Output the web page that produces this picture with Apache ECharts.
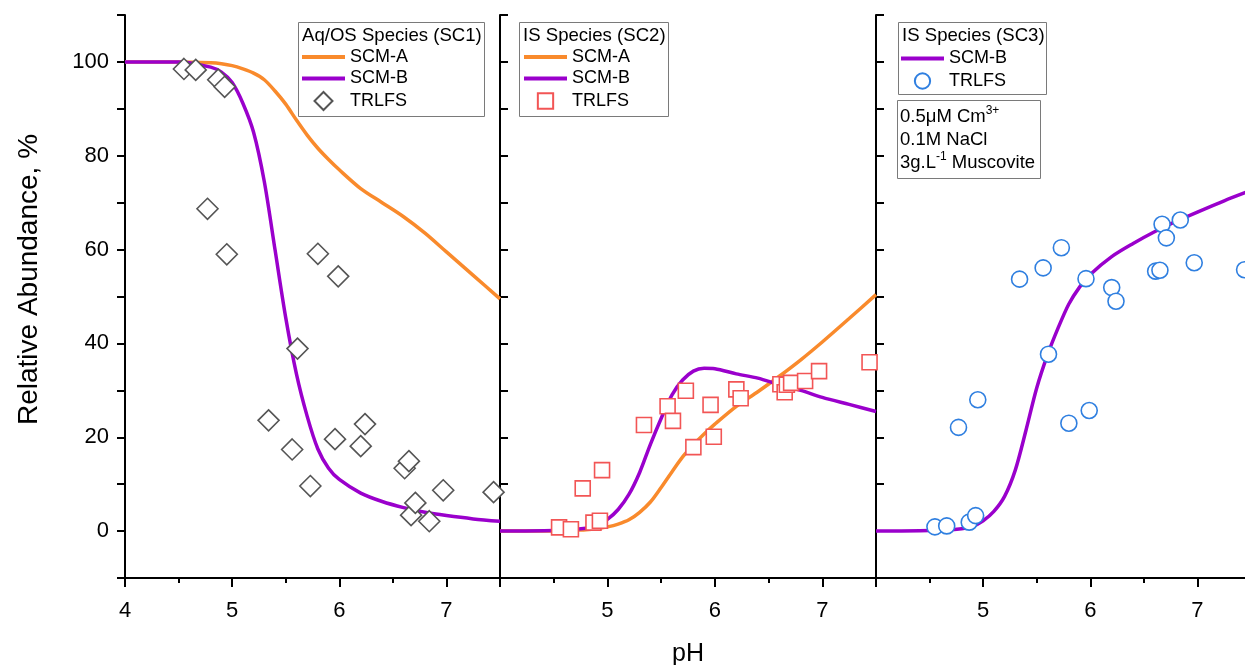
<!DOCTYPE html>
<html>
<head>
<meta charset="utf-8">
<script src="https://cdn.jsdelivr.net/npm/echarts@6/dist/echarts.min.js"></script>
<style>
  html, body { margin: 0; padding: 0; background: #fff; }
  #chart { width: 1245px; height: 665px; }
</style>
</head>
<body>
<div id="chart"></div>
<script>
// TRLFS measurements (same pH points in all three panels)
const trlfsPh  = [4.55, 4.66, 4.77, 4.87, 4.93, 4.95, 5.34, 5.56, 5.61, 5.73, 5.80, 5.96, 5.99, 6.20, 6.24, 6.61, 6.65, 6.67, 6.71, 6.84, 6.97, 7.44];
const trlfsSC1 = [98.5, 98.3, 68.7, 96.2, 94.7, 59.0, 23.6, 17.4, 38.9, 9.6, 59.1, 19.6, 54.3, 18.1, 22.8, 13.4, 14.9, 3.4, 6.0, 2.1, 8.7, 8.3];
const trlfsSC2 = [0.8, 0.4, 9.1, 1.8, 2.2, 13.0, 22.6, 26.6, 23.5, 29.9, 17.9, 26.9, 20.1, 30.2, 28.3, 31.3, 29.6, 31.2, 31.6, 32.0, 34.1, 36.0];
const trlfsSC3 = [0.9, 1.1, 22.1, 1.9, 3.3, 28.0, 53.7, 56.1, 37.7, 60.4, 23.0, 53.8, 25.7, 51.9, 49.0, 55.4, 55.6, 65.4, 62.5, 66.3, 57.2, 55.7];

// model curves
const modelPh  = [4.0, 4.5, 4.8, 4.9, 5.0, 5.1, 5.2, 5.3, 5.4, 5.5, 5.6, 5.7, 5.8, 5.9, 6.0, 6.2, 6.4, 6.6, 6.8, 7.0, 7.25, 7.5];
const scmA_SC1 = [100, 100, 99.8, 99.6, 99.2, 98.5, 97.6, 96.2, 93.8, 91.0, 87.6, 84.4, 81.6, 79.2, 77.0, 73.0, 70.0, 67.0, 63.5, 59.5, 54.5, 49.5];
const scmB_SC1 = [100, 100, 98.9, 97.8, 95.6, 91.2, 85.0, 74.5, 60.0, 45.5, 33.5, 24.5, 17.5, 13.4, 11.0, 8.1, 6.3, 5.0, 4.0, 3.3, 2.6, 2.1];
const scmA_SC2 = [0, 0, 0.3, 0.5, 0.9, 1.5, 2.4, 4.0, 6.2, 9.3, 12.6, 15.8, 18.4, 20.7, 22.8, 26.6, 29.7, 33.0, 36.5, 40.3, 45.3, 50.4];
const scmB_SC2 = [0, 0.1, 0.6, 1.3, 2.5, 4.6, 7.8, 12.5, 18.5, 24.0, 29.0, 32.2, 34.1, 34.7, 34.6, 33.5, 32.6, 31.2, 30.0, 28.5, 27.0, 25.5];
const scmB_SC3 = [0, 0.1, 0.5, 1.0, 2.2, 4.2, 7.4, 13.0, 21.5, 30.5, 37.5, 43.3, 48.4, 52.0, 54.7, 58.5, 61.3, 63.8, 66.0, 68.0, 70.4, 72.6];

const yLabels = [0, 20, 40, 60, 80, 100];
const xLabels1 = [4, 5, 6, 7];
const xLabels = [5, 6, 7];

const FONT = 'Liberation Sans, Arial, sans-serif';
const ORANGE = '#F98A2C';
const PURPLE = '#9A00CC';

function zip(xs, ys) {
  return xs.map((x, i) => [x, ys[i]]);
}

const chart = echarts.init(document.getElementById('chart'));

const grids = [
  {left: 125, top: 15, width: 375, height: 563, outerBoundsMode: 'none'},
  {left: 500, top: 15, width: 376, height: 563, outerBoundsMode: 'none'},
  {left: 876, top: 15, width: 375, height: 563, outerBoundsMode: 'none'}
];

const xAxes = [];
grids.forEach((g, i) => {
  const labels = i === 0 ? xLabels1 : xLabels;
  // major ticks + labels
  xAxes.push({
    type: 'value', gridIndex: i, min: 4, max: 7.5, interval: 1, position: 'bottom',
    axisLine: {onZero: false, lineStyle: {color: '#000', width: 2}},
    axisTick: {length: 9, lineStyle: {color: '#000', width: 2}},
    axisLabel: {
      margin: 22, fontSize: 22, color: '#000', fontFamily: FONT,
      formatter: (v) => labels.indexOf(v) >= 0 ? String(v) : ''
    },
    splitLine: {show: false},
    name: i === 1 ? 'pH' : '',
    nameLocation: 'middle', nameGap: 64,
    nameTextStyle: {fontSize: 25, color: '#000', fontFamily: FONT}
  });
  // minor ticks
  xAxes.push({
    type: 'value', gridIndex: i, min: 4, max: 7.5, interval: 0.5, position: 'bottom',
    axisLine: {show: false, onZero: false},
    axisTick: {length: 5, lineStyle: {color: '#000', width: 2}},
    axisLabel: {show: false},
    splitLine: {show: false}
  });
});

const yAxes = grids.map((g, i) => ({
  type: 'value', gridIndex: i, min: -10, max: 110, interval: 10,
  axisLine: {show: true, onZero: false, lineStyle: {color: '#000', width: 2}},
  axisTick: {show: true, inside: i > 0, length: 8, lineStyle: {color: '#000', width: 2}},
  axisLabel: {
    show: i === 0, margin: 16, fontSize: 22, color: '#000', fontFamily: FONT,
    formatter: (v) => yLabels.indexOf(v) >= 0 ? String(v) : ''
  },
  splitLine: {show: false},
  name: i === 0 ? 'Relative Abundance, %' : '',
  nameLocation: 'middle', nameGap: 82,
  nameTextStyle: {fontSize: 28, color: '#000', fontFamily: FONT, padding: [0, 0, 0, 34]}
}));

function lineSeries(name, color, data, xi, yi) {
  return {
    name: name, type: 'line', xAxisIndex: xi, yAxisIndex: yi,
    data: data, symbol: 'none', smooth: 0.3,
    lineStyle: {color: color, width: 3.5}, itemStyle: {color: color},
    z: 2, silent: true
  };
}

function scatterSeries(name, symbol, size, color, data, xi, yi) {
  return {
    name: name, type: 'scatter', xAxisIndex: xi, yAxisIndex: yi,
    data: data, symbol: symbol, symbolSize: size,
    itemStyle: {color: '#fff', borderColor: color, borderWidth: 1.6, opacity: 1},
    z: 3, silent: true
  };
}

const series = [
  lineSeries('SCM-A|1', ORANGE, zip(modelPh, scmA_SC1), 0, 0),
  lineSeries('SCM-B|1', PURPLE, zip(modelPh, scmB_SC1), 0, 0),
  scatterSeries('TRLFS|1', 'diamond', 21, '#555', zip(trlfsPh, trlfsSC1), 0, 0),
  lineSeries('SCM-A|2', ORANGE, zip(modelPh, scmA_SC2), 2, 1),
  lineSeries('SCM-B|2', PURPLE, zip(modelPh, scmB_SC2), 2, 1),
  scatterSeries('TRLFS|2', 'rect', 15, '#F25555', zip(trlfsPh, trlfsSC2), 2, 1),
  lineSeries('SCM-B|3', PURPLE, zip(modelPh, scmB_SC3), 4, 2),
  scatterSeries('TRLFS|3', 'circle', 16, '#2F7FE0', zip(trlfsPh, trlfsSC3), 4, 2)
];

// legend icons: built-in diamond/rect get stretched to itemWidth, paths keep aspect
// (the zero-length segments at the corners just pad the path's bounding box)
const legendIcons = {
  'TRLFS|1': 'path://M10,0L20,10L10,20L0,10Z',
  'TRLFS|2': 'path://M0,0L0,0M20,20L20,20M1.5,1.5L18.5,1.5L18.5,18.5L1.5,18.5Z',
  'TRLFS|3': 'path://M0,0L0,0M20,20L20,20M10,1.5A8.5,8.5 0 1,1 9.99,1.5Z'
};

function legendAt(left, top, names) {
  return {
    left: left, top: top, orient: 'vertical', padding: 0,
    itemWidth: 43, itemHeight: 18, itemGap: 3.5,
    symbolKeepAspect: true,
    selectedMode: false,
    data: names.map((n) => legendIcons[n]
      ? {name: n, icon: legendIcons[n]}
      : {name: n, itemStyle: {opacity: 0}, lineStyle: {width: 4}}),   // hide the marker drawn on line samples
    formatter: (n) => n.split('|')[0],
    textStyle: {fontSize: 18, lineHeight: 18, color: '#000', fontFamily: FONT}
  };
}

const boxStyle = {fill: 'none', stroke: '#7a7a7a', lineWidth: 1};
const titleStyle = {fontSize: 18.6, fontFamily: FONT, fill: '#000', verticalAlign: 'middle'};

const option = {
  animation: false,
  backgroundColor: '#fff',
  grid: grids,
  xAxis: xAxes,
  yAxis: yAxes,
  series: series,
  legend: [
    legendAt(300, 48, ['SCM-A|1', 'SCM-B|1', 'TRLFS|1']),
    legendAt(522, 48, ['SCM-A|2', 'SCM-B|2', 'TRLFS|2']),
    legendAt(899, 49.5, ['SCM-B|3', 'TRLFS|3'])
  ],
  graphic: [
    {type: 'rect', shape: {x: 298.5, y: 22.5, width: 186, height: 94}, style: boxStyle, z: 10},
    {type: 'text', x: 302, y: 36, style: Object.assign({text: 'Aq/OS Species (SC1)'}, titleStyle), z: 10},
    {type: 'rect', shape: {x: 519.5, y: 22.5, width: 149, height: 94}, style: boxStyle, z: 10},
    {type: 'text', x: 523, y: 36, style: Object.assign({text: 'IS Species (SC2)'}, titleStyle), z: 10},
    {type: 'rect', shape: {x: 898.5, y: 22.5, width: 148, height: 72}, style: boxStyle, z: 10},
    {type: 'text', x: 902, y: 36, style: Object.assign({text: 'IS Species (SC3)'}, titleStyle), z: 10},
    {type: 'rect', shape: {x: 897.5, y: 100.5, width: 143, height: 78}, style: boxStyle, z: 10},
    {
      type: 'text', x: 900, y: 105, z: 10,
      style: {
        text: '{t|0.5μM Cm}{s|3+}\n{t|0.1M NaCl}\n{t|3g.L}{s|-1}{t| Muscovite}',
        fontFamily: FONT, fill: '#000',
        rich: {
          t: {fontSize: 18.5, lineHeight: 23, fontFamily: FONT, fill: '#000'},
          s: {fontSize: 12, lineHeight: 23, fontFamily: FONT, fill: '#000', verticalAlign: 'top', padding: [0, 0, 9, 0]}
        }
      }
    }
  ]
};

chart.setOption(option);
</script>
</body>
</html>
